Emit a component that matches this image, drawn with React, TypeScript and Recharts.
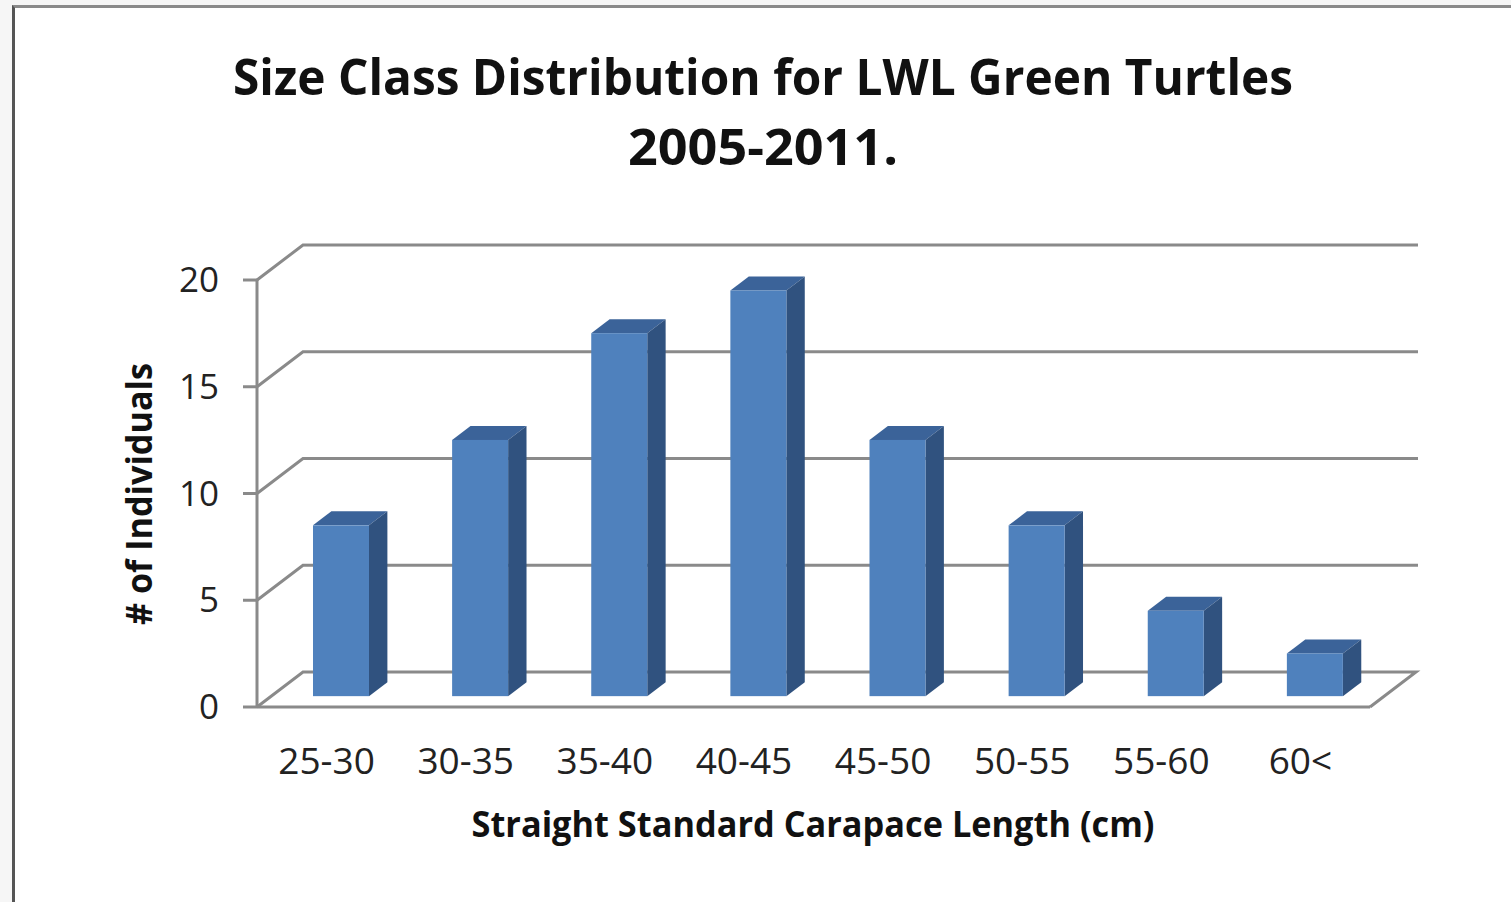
import * as React from "react";
import { BarChart, Bar, XAxis, YAxis, CartesianGrid } from "recharts";

const sizeClasses = ["25-30", "30-35", "35-40", "40-45", "45-50", "50-55", "55-60", "60<"];
const individuals = [8, 12, 17, 19, 12, 8, 4, 2];
const yTicks = [0, 5, 10, 15, 20];

const data = sizeClasses.map((c, i) => ({ sizeClass: c, count: individuals[i] }));

const W = 1511;
const H = 902;
const Y_AXIS_W = 257;
const X_AXIS_H = 30;
const margin = { top: 280, right: 141, bottom: 195 - X_AXIS_H, left: 0 };
const plotBottom = H - margin.bottom - X_AXIS_H;

// depth of the fake 3d box
const DX = 46;
const DY = -35;
const LINE = "#8a8a8a";
const FONT = "'Open Sans', 'Noto Sans', sans-serif";

function Bar3D(props: any) {
  const { x, y, width, height } = props;
  if (!height || height <= 0) return null;
  // bar sits a bit behind the front plane
  const fx = x + DX * 0.31;
  const fy = y + DY * 0.31;
  const sx = DX * 0.4;
  const sy = DY * 0.4;
  return (
    <g>
      <polygon
        points={`${fx},${fy} ${fx + sx},${fy + sy} ${fx + width + sx},${fy + sy} ${fx + width},${fy}`}
        fill="#3b6399"
      />
      <polygon
        points={`${fx + width},${fy} ${fx + width + sx},${fy + sy} ${fx + width + sx},${fy + height + sy} ${fx + width},${fy + height}`}
        fill="#30527f"
      />
      <rect x={fx} y={fy} width={width} height={height} fill="#4f81bd" />
    </g>
  );
}

function GridLine(props: any) {
  const { x1, y1, x2 } = props;
  const isFloor = Math.abs(y1 - plotBottom) < 1;
  const pts = isFloor
    ? `${x1},${y1} ${x1 + DX},${y1 + DY} ${x2 + DX},${y1 + DY} ${x2},${y1}`
    : `${x1},${y1} ${x1 + DX},${y1 + DY} ${x2 + DX + 2},${y1 + DY}`;
  return <polyline key={props.key} points={pts} fill="none" stroke={LINE} strokeWidth={3} />;
}

function XTick(props: any) {
  const { x, y, payload } = props;
  return (
    <text x={x} y={y + 59} textAnchor="middle" fontFamily={FONT} fontSize={37} fill="#222">
      {payload.value}
    </text>
  );
}

function YTick(props: any) {
  const { x, y, payload } = props;
  return (
    <text x={x} y={y + 12} textAnchor="end" fontFamily={FONT} fontSize={35} fill="#222">
      {payload.value}
    </text>
  );
}

export default function App() {
  return (
    <div style={{ position: "absolute", left: 0, top: 0, width: W, height: H, background: "#f6f6f6", overflow: "hidden" }}>
      <div
        style={{
          position: "absolute",
          left: 12,
          top: 5,
          width: W,
          height: H,
          background: "#fff",
          borderLeft: "3px solid #555",
          borderTop: "3px solid #8a8a8a",
        }}
      />
      <div style={{ position: "absolute", left: 0, top: 0 }}>
        <BarChart width={W} height={H} data={data} margin={margin} barCategoryGap="30%">
          <text x={763} y={95} textAnchor="middle" fontFamily={FONT} fontWeight="bold" fontSize={50} fill="#111" textLength={1060} lengthAdjust="spacingAndGlyphs">
            Size Class Distribution for LWL Green Turtles
          </text>
          <text x={763} y={165} textAnchor="middle" fontFamily={FONT} fontWeight="bold" fontSize={50} fill="#111" textLength={270} lengthAdjust="spacingAndGlyphs">
            2005-2011.
          </text>
          <text x={813} y={837} textAnchor="middle" fontFamily={FONT} fontWeight="bold" fontSize={36} fill="#111" textLength={683} lengthAdjust="spacingAndGlyphs">
            Straight Standard Carapace Length (cm)
          </text>
          <text
            x={0}
            y={0}
            transform="translate(152,494) rotate(-90)"
            textAnchor="middle"
            fontFamily={FONT}
            fontWeight="bold"
            fontSize={36}
            fill="#111"
            textLength={262}
            lengthAdjust="spacingAndGlyphs"
          >
            # of Individuals
          </text>
          <CartesianGrid vertical={false} horizontal={GridLine} />
          <XAxis
            dataKey="sizeClass"
            height={X_AXIS_H}
            axisLine={{ stroke: LINE, strokeWidth: 3 }}
            tickLine={false}
            tick={XTick}
            interval={0}
          />
          <YAxis
            domain={[0, 20]}
            ticks={yTicks}
            axisLine={{ stroke: LINE, strokeWidth: 3 }}
            tickLine={{ stroke: LINE, strokeWidth: 3 }}
            tickSize={14}
            tickMargin={24}
            tick={YTick}
            width={Y_AXIS_W}
          />
          <Bar dataKey="count" shape={Bar3D} isAnimationActive={false} />
        </BarChart>
      </div>
    </div>
  );
}
